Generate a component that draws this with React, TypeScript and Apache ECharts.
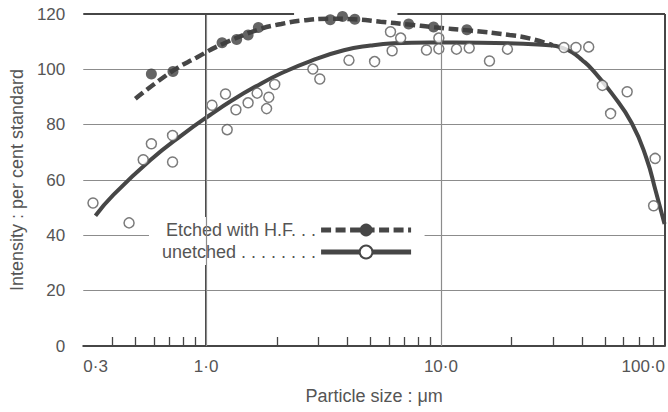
import React, { useEffect, useRef } from "react";
import * as echarts from "echarts";

// ---- data ----
const etchedName = "Etched with H.F. . .";
const unetchedName = "unetched . . . . . . . .";

// measured points (particle size in µm, intensity in per cent standard)
const etchedSize = [0.585, 0.723, 1.17, 1.35, 1.51, 1.67, 3.38, 3.81, 4.3, 7.29, 9.31, 12.9];
const etchedIntensity = [98.3, 99.2, 109.6, 110.8, 112.4, 115.1, 117.9, 119.1, 118.1, 116.4, 115.3, 114.3];

const unetchedSize = [
  0.33, 0.47, 0.54, 0.585, 0.72, 0.72, 1.06, 1.21, 1.23, 1.34, 1.51, 1.65, 1.85, 1.81, 1.96,
  2.85, 3.05, 4.06, 5.22, 6.2, 6.1, 6.74, 8.68, 9.8, 9.8, 11.65, 13.2, 16.1, 19.2, 33.4, 37.6,
  42.6, 48.7, 62.1, 52.8, 81.7, 80.5,
];
const unetchedIntensity = [
  51.7, 44.5, 67.3, 73.1, 76.1, 66.5, 87.0, 91.1, 78.2, 85.4, 87.9, 91.4, 89.9, 85.8, 94.5,
  100.1, 96.5, 103.3, 102.8, 106.7, 113.6, 111.3, 107.0, 107.4, 111.3, 107.3, 107.7, 103.0, 107.3,
  107.9, 107.9, 108.1, 94.2, 91.9, 84.0, 67.8, 50.7,
];

// fitted curves as drawn
const etchedCurveSize = [0.5, 0.723, 0.913, 1.165, 1.665, 2.09, 2.54, 3.4, 4.25, 5.53, 7.29, 9.36, 13.3, 19.6, 23.8, 29.9];
const etchedCurveIntensity = [89.4, 99.5, 104.3, 109.0, 114.3, 116.4, 117.6, 118.3, 118.1, 117.2, 116.2, 115.2, 114.0, 112.4, 111.2, 108.7];

const unetchedCurveSize = [
  0.338, 0.403, 0.578, 0.797, 1.036, 1.297, 1.623, 2.11, 2.8, 3.86, 5.02, 6.28, 9.0, 14.65, 29.8,
  32.9, 36.2, 39.9, 44.0, 53.5, 65.0, 75.2, 82.1, 89.6,
];
const unetchedCurveIntensity = [
  47.1, 54.6, 67.1, 76.5, 83.4, 88.9, 93.75, 98.75, 103.1, 106.9, 108.6, 109.4, 109.7, 109.65, 108.6,
  107.75, 106.2, 103.4, 100.0, 91.2, 80.5, 67.6, 56.1, 44.1,
];

// axes
const xAxisMin = 0.3;
const xAxisMax = 90; // drawn axis stops just short of 100
const xLabelValues = [0.3, 1, 10, 100];
const xLabels = ["0·3", "1·0", "10·0", "100·0"];
const xMinorTicks = [0.4, 0.5, 0.6, 0.7, 0.8, 0.9, 2, 3, 4, 5, 6, 7, 8, 9, 20, 30, 40, 50, 60, 70, 80];
const xGridValues = [1, 10];
const yMin = 0;
const yMax = 120;
const yStep = 20;
// top frame is interrupted where the data runs into it
const topFrameGap = [2.37, 6.53];

const L = (v: number) => Math.log10(v);
const FONT = "'Liberation Sans', Arial, sans-serif";
const TEXT = "#555";
const INK = "#464646";
const GRID = "#8c8c8c";

export default function App() {
  const ref = useRef<HTMLDivElement>(null);
  useEffect(() => {
    if (!ref.current) return;
    const chart = echarts.init(ref.current, undefined, { renderer: "svg" });
    const maxLog = L(xAxisMax);
    const labelPos = xLabelValues.map((v) => Math.min(L(v), maxLog));
    const frame = { color: INK, width: 2, type: "solid" as const };
    const gridStyle = { color: GRID, width: 1.2, type: "solid" as const };
    const option: any = {
      animation: false,
      grid: { left: 81, right: 3, top: 14, bottom: 66, containLabel: false },
      legend: {
        data: [etchedName, unetchedName],
        orient: "vertical",
        left: 149,
        top: 217,
        align: "right",
        itemWidth: 90,
        itemHeight: 16,
        itemGap: 4,
        backgroundColor: "#fff",
        padding: [4, 11, 4, 13],
        selectedMode: false,
        lineStyle: { width: 5 },
        textStyle: { fontSize: 18, lineHeight: 18, color: TEXT, fontFamily: FONT },
      },
      xAxis: {
        type: "value",
        min: L(xAxisMin),
        max: maxLog,
        name: "Particle size : μm",
        nameLocation: "middle",
        nameGap: 41,
        nameTextStyle: { fontSize: 18, color: TEXT, fontFamily: FONT },
        axisLine: { show: true, lineStyle: frame },
        axisTick: {
          show: true,
          inside: true,
          length: 9,
          customValues: xMinorTicks.map(L),
          lineStyle: { color: INK, width: 1.3 },
        },
        axisLabel: {
          customValues: labelPos,
          margin: 12,
          fontSize: 17,
          color: TEXT,
          fontFamily: FONT,
          showMinLabel: true,
          showMaxLabel: true,
          alignMinLabel: "left",
          alignMaxLabel: "right",
          formatter: (v: number) => {
            const i = labelPos.findIndex((p) => Math.abs(p - v) < 1e-6);
            return i >= 0 ? xLabels[i] : "";
          },
        },
        splitLine: { show: false },
      },
      yAxis: {
        type: "value",
        min: yMin,
        max: yMax,
        interval: yStep,
        name: "Intensity : per cent standard",
        nameLocation: "middle",
        nameGap: 52,
        nameTextStyle: { fontSize: 18, color: TEXT, fontFamily: FONT },
        axisLine: { show: true, lineStyle: frame },
        axisTick: { show: false },
        axisLabel: { margin: 18, fontSize: 17, color: TEXT, fontFamily: FONT },
        splitLine: { show: true, showMinLine: false, showMaxLine: false, lineStyle: gridStyle },
      },
      series: [
        {
          name: "frame",
          type: "line",
          data: [],
          silent: true,
          z: 1,
          markLine: {
            silent: true,
            symbol: ["none", "none"],
            label: { show: false },
            emphasis: { disabled: true },
            data: [
              ...xGridValues.map((g) => [
                { coord: [L(g), yMin], lineStyle: gridStyle },
                { coord: [L(g), yMax] },
              ]),
              [{ coord: [L(xAxisMin), yMax], lineStyle: frame }, { coord: [L(topFrameGap[0]), yMax] }],
              [{ coord: [L(topFrameGap[1]), yMax], lineStyle: frame }, { coord: [maxLog, yMax] }],
              [{ coord: [maxLog, yMin], lineStyle: frame }, { coord: [maxLog, yMax] }],
            ],
          },
        },
        {
          name: etchedName,
          type: "line",
          z: 2,
          smooth: 0.5,
          showSymbol: false,
          symbol: "circle",
          symbolSize: 12,
          itemStyle: { color: INK },
          lineStyle: { color: INK, width: 4.5, type: [10, 4.5] },
          data: etchedCurveSize.map((s, i) => [L(s), etchedCurveIntensity[i]]),
        },
        {
          name: unetchedName,
          type: "line",
          z: 2,
          smooth: 0.5,
          showSymbol: false,
          symbol: "emptyCircle",
          symbolSize: 12,
          itemStyle: { color: INK },
          lineStyle: { color: INK, width: 4 },
          data: unetchedCurveSize.map((s, i) => [L(s), unetchedCurveIntensity[i]]),
        },
        {
          name: etchedName,
          type: "scatter",
          z: 3,
          symbol: "circle",
          symbolSize: 11,
          itemStyle: { color: "#3e3e3e" },
          data: etchedSize.map((s, i) => [L(s), etchedIntensity[i]]),
        },
        {
          name: unetchedName,
          type: "scatter",
          z: 3,
          symbol: "circle",
          symbolSize: 10,
          itemStyle: { color: "#fff", borderColor: "#5a5a5a", borderWidth: 1.5 },
          data: unetchedSize.map((s, i) => [L(s), unetchedIntensity[i]]),
        },
      ],
    };
    chart.setOption(option);
    return () => chart.dispose();
  }, []);
  return (
    <div
      ref={ref}
      style={{ position: "fixed", left: 0, top: 0, width: 668, height: 412, background: "#fff" }}
    />
  );
}
